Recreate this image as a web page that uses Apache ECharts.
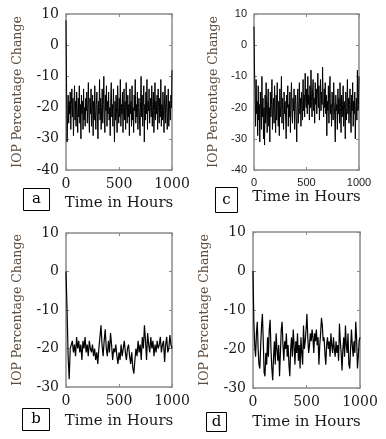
<!DOCTYPE html>
<html>
<head>
<meta charset="utf-8">
<script src="https://cdn.jsdelivr.net/npm/echarts@6/dist/echarts.min.js"></script>
<style>
  html, body { margin: 0; padding: 0; background: #fff; }
  #chart { width: 386px; height: 439px; }
</style>
</head>
<body>
<div id="chart"></div>
<script>
// IOP % change, sampled evenly over 0..1000 hours
const valuesA = [
  8, -12, -31, -24, -16, -25, -18, -22, -15, -27, -19, -14, -23, -17, -29, -20, -13, -24, -18, -26,
  -15, -21, -28, -17, -23, -13, -25, -19, -30, -16, -22, -18, -27, -14, -24, -20, -26, -17, -21, -15,
  -25, -19, -12, -23, -28, -17, -22, -14, -26, -20, -16, -29, -18, -24, -13, -21, -27, -19, -15, -23,
  -30, -18, -22, -11, -24, -17, -27, -20, -14, -25, -19, -10, -23, -28, -16, -21, -13, -26, -18, -22,
  -15, -24, -20, -29, -17, -12, -23, -19, -26, -14, -21, -31, -18, -24, -16, -22, -28, -13, -20, -25,
  -17, -23, -11, -26, -19, -22, -15, -28, -20, -14, -24, -18, -27, -12, -21, -25, -16, -23, -19, -29,
  -14, -22, -18, -26, -13, -24, -20, -28, -16, -21, -11, -25, -19, -23, -15, -27, -20, -17, -24, -29,
  -18, -10, -23, -16, -26, -20, -13, -31, -19, -24, -15, -22, -11, -27, -18, -21, -14, -25, -20, -17,
  -23, -13, -26, -19, -15, -28, -21, -12, -24, -18, -22, -16, -27, -14, -20, -25, -17, -23, -11, -26,
  -19, -24, -15, -21, -28, -17, -13, -25, -20, -16, -27, -22, -14, -26, -18, -21, -24, -16, -20, -8
];
const valuesC = [
  6, -8, -14, -26, -11, -22, -18, -29, -13, -24, -19, -31, -15, -21, -27, -10, -23, -17, -30, -20,
  -32, -16, -25, -12, -22, -28, -18, -14, -26, -20, -31, -15, -23, -19, -11, -27, -21, -17, -25, -13,
  -22, -28, -16, -24, -12, -20, -26, -18, -29, -14, -23, -19, -10, -25, -17, -21, -27, -15, -22, -18,
  -24, -30, -16, -20, -13, -26, -19, -23, -15, -28, -18, -12, -22, -25, -17, -21, -14, -27, -19, -16,
  -23, -31, -18, -14, -25, -20, -12, -22, -17, -26, -15, -19, -24, -11, -21, -16, -23, -9, -18, -20,
  -14, -22, -10, -19, -16, -24, -13, -20, -8, -18, -23, -15, -11, -21, -17, -25, -12, -19, -14, -22,
  -16, -9, -20, -13, -24, -17, -11, -21, -15, -19, -7, -18, -23, -14, -20, -12, -22, -16, -29, -18,
  -21, -13, -25, -17, -10, -22, -19, -26, -15, -20, -24, -12, -18, -23, -31, -16, -21, -19, -27, -14,
  -22, -17, -25, -12, -20, -28, -16, -23, -19, -13, -26, -18, -21, -30, -15, -24, -20, -11, -22, -17,
  -25, -19, -14, -23, -28, -16, -21, -12, -26, -18, -22, -15, -30, -20, -17, -24, -8, -21, -19, -10
];
const valuesB = [
  0, -10, -22, -28, -20, -19, -18, -21, -19, -22, -17, -20, -18, -21, -19, -23, -18, -20, -17, -21,
  -19, -22, -18, -20, -21, -19, -22, -20, -23, -21, -24, -20, -17, -14, -19, -22, -18, -15, -20, -22,
  -18, -21, -16, -19, -23, -20, -21, -19, -22, -24, -21, -23, -19, -22, -20, -18, -21, -23, -20, -19,
  -22, -24, -21, -25, -26.5, -23, -20, -22, -18, -21, -19, -23, -17, -20, -14, -18, -23, -16, -19, -21,
  -17, -20, -18, -22, -19, -21, -18, -20, -19, -17, -21, -19, -18, -23.5, -19, -17, -21, -20, -16.5, -19, -20
];
const valuesD = [
  0, -13, -19, -22, -16, -13, -20, -24, -25, -19, -14, -11, -18, -26, -27, -21, -24, -17, -22, -15,
  -12.5, -20, -25, -28, -22, -18, -24, -16, -20, -23, -19, -27, -21, -15, -13, -19, -23, -18, -20, -16,
  -22, -19, -24, -27, -20, -17, -22, -15, -19, -24, -18, -21, -16, -23, -19, -25, -17, -21, -24, -14,
  -20, -18, -15, -11, -17, -21, -19, -16, -18, -15, -17, -21, -16, -18, -15, -19, -17, -24, -19, -16,
  -12, -14, -18, -17, -21, -24, -19, -17, -20, -18, -22, -16, -19, -21, -17, -20, -22, -18, -21, -19,
  -23, -13.5, -18, -21, -25.5, -20, -17, -22, -14, -19, -21, -16, -24, -25, -20, -15, -19, -22, -18, -21,
  -13, -17, -25, -22, -18, -17
];

const SERIF = '"DejaVu Serif", serif';
const SANS = '"Liberation Sans", Arial, sans-serif';
const boxColor = '#8a8a8a';
const nameColor = '#5e4d3e';

const toPairs = (vals) => vals.map((v, i) => [i * 1000 / (vals.length - 1), v]);

const panels = [
  { key: 'a', vals: valuesA, grid: { left: 66, top: 14, width: 106, height: 156 }, yMin: -40, font: SERIF, fs: 14, lw: 1, gapX: 26 },
  { key: 'c', vals: valuesC, grid: { left: 254, top: 14, width: 105, height: 156 }, yMin: -40, font: SANS, fs: 11, lw: 1, gapX: 20 },
  { key: 'b', vals: valuesB, grid: { left: 66, top: 233, width: 106, height: 154 }, yMin: -30, font: SERIF, fs: 14, lw: 1.2, gapX: 27 },
  { key: 'd', vals: valuesD, grid: { left: 253, top: 232, width: 107, height: 156 }, yMin: -30, font: SERIF, fs: 14, lw: 1.2, gapX: 27 }
];

const grids = [], xAxes = [], yAxes = [], series = [], graphics = [];
panels.forEach((p, i) => {
  grids.push(Object.assign({ show: true, borderColor: boxColor, borderWidth: 1.5, backgroundColor: '#fff' }, p.grid));
  const tick = { show: true, inside: true, length: 3, lineStyle: { color: boxColor } };
  const noLine = { show: false, onZero: false };
  xAxes.push({
    gridIndex: i, type: 'value', min: 0, max: 1000, interval: 500,
    axisLine: noLine, axisTick: tick, splitLine: { show: false },
    axisLabel: { fontFamily: p.font, fontSize: p.fs, color: '#1a1a1a', margin: 7, formatter: v => String(v) },
    name: 'Time in Hours', nameLocation: 'middle', nameGap: p.gapX,
    nameTextStyle: { fontFamily: SERIF, fontSize: 15, color: '#1a1a1a' }
  });
  xAxes.push({
    gridIndex: i, type: 'value', min: 0, max: 1000, interval: 500, position: 'top',
    axisLine: noLine, axisTick: tick, axisLabel: { show: false }, splitLine: { show: false }
  });
  yAxes.push({
    gridIndex: i, type: 'value', min: p.yMin, max: 10, interval: 10,
    axisLine: noLine, axisTick: tick, splitLine: { show: false },
    axisLabel: { fontFamily: p.font, fontSize: p.fs, color: '#1a1a1a', margin: 7 },
    name: 'IOP Percentage Change', nameLocation: 'middle', nameGap: p.key === 'c' ? 34 : 42,
    nameTextStyle: { fontFamily: SERIF, fontSize: 12.5, color: nameColor }
  });
  yAxes.push({
    gridIndex: i, type: 'value', min: p.yMin, max: 10, interval: 10, position: 'right',
    axisLine: noLine, axisTick: tick, axisLabel: { show: false }, splitLine: { show: false }
  });
  series.push({
    type: 'line', xAxisIndex: i * 2, yAxisIndex: i * 2, data: toPairs(p.vals),
    showSymbol: false, lineStyle: { color: '#000', width: p.lw }, animation: false
  });
});

// panel letter boxes
const letterBoxes = [
  { t: 'a', x: 23, y: 188, w: 26, h: 22 },
  { t: 'c', x: 215, y: 187, w: 22, h: 25 },
  { t: 'b', x: 22, y: 408, w: 27, h: 22 },
  { t: 'd', x: 206, y: 412, w: 20, h: 19 }
];
letterBoxes.forEach(b => {
  graphics.push({
    type: 'group', left: b.x, top: b.y,
    children: [
      { type: 'rect', shape: { x: 0, y: 0, width: b.w, height: b.h }, style: { fill: '#fff', stroke: '#000', lineWidth: 1 } },
      { type: 'text', x: b.w / 2, y: b.h / 2, style: { text: b.t, font: '15px ' + SERIF, fill: '#000', align: 'center', verticalAlign: 'middle' } }
    ]
  });
});

const chart = echarts.init(document.getElementById('chart'), null, { renderer: 'canvas' });
chart.setOption({
  animation: false,
  grid: grids,
  xAxis: xAxes,
  yAxis: yAxes,
  series: series,
  graphic: graphics
});
</script>
</body>
</html>
